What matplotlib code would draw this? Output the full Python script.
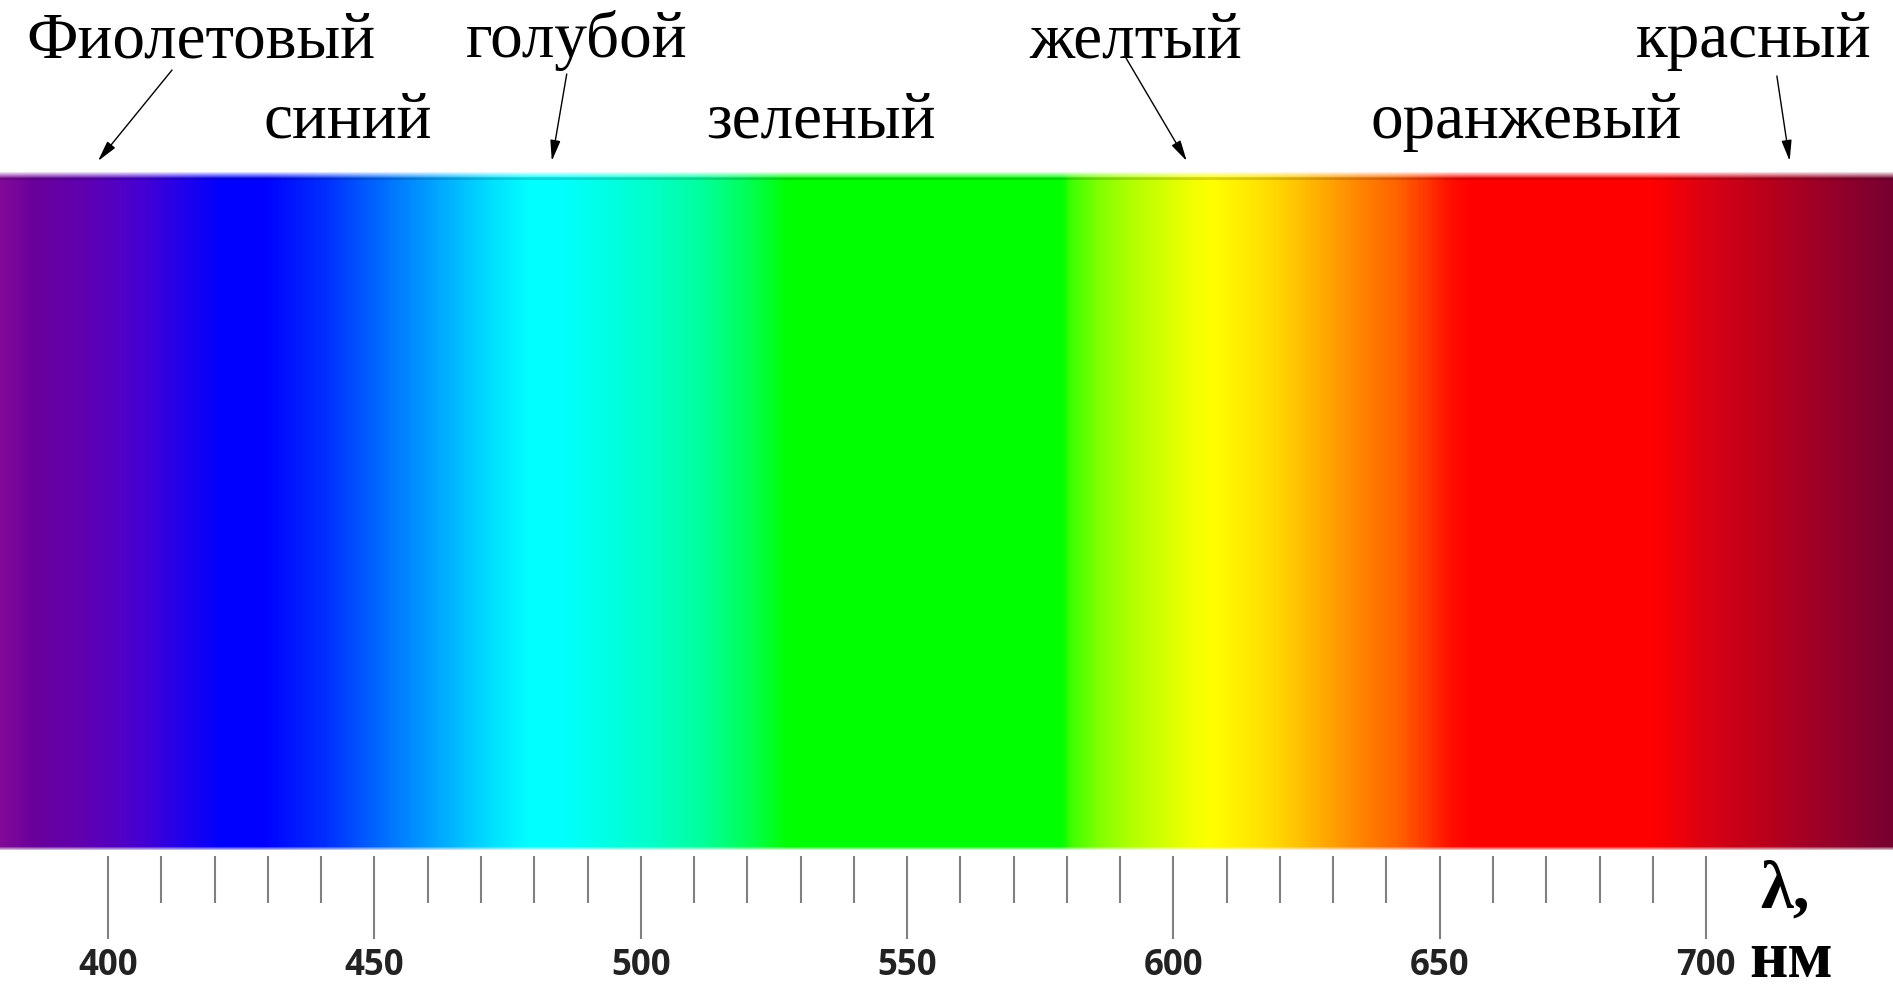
import matplotlib
matplotlib.use('Agg')
import matplotlib.pyplot as plt
import numpy as np
from matplotlib.colors import LinearSegmentedColormap

# Опорные точки спектра: длина волны (нм) и цвет полосы
stop_nm = [379.7, 386, 395, 403, 409, 414, 421, 429, 441, 452,
           462, 472, 479, 485, 492, 502, 511, 517, 522, 527,
           529, 579, 581, 586, 592, 599, 603, 607, 612, 618,
           624, 630, 636, 642, 648, 652, 656, 690, 701, 712,
           723, 735.1]
stop_colors = ['#820a98', '#6a009c', '#6000b0', '#5000c8', '#3a00dc', '#2000ec', '#0000ff', '#0000ff', '#0030ff', '#0070ff',
               '#00a8ff', '#00e0ff', '#00ffff', '#00ffff', '#00ffe8', '#00ffc8', '#00ffa0', '#00ff70', '#00ff40', '#00ff08',
               '#00ff00', '#00ff00', '#40ff00', '#80ff00', '#b0ff00', '#d8ff00', '#f0ff00', '#ffff00', '#fff000', '#ffdd00',
               '#ffc000', '#ffa000', '#ff8000', '#ff6400', '#ff3400', '#ff1000', '#ff0000', '#ff0000', '#d80014', '#b8001c',
               '#98002a', '#780030']

# Шкала длин волн
major_nm = [400, 450, 500, 550, 600, 650, 700]
major_labels = ['400', '450', '500', '550', '600', '650', '700']
minor_nm = [v for v in range(410, 700, 10) if v % 50 != 0]

# Названия цветов (верхний и нижний ряд) и длины волн, над которыми они стоят
row1_names = ['Фиолетовый', 'голубой', 'желтый', 'красный']
row1_nm = [417.5, 488.0, 593.0, 709.0]
row2_names = ['синий', 'зеленый', 'оранжевый']
row2_nm = [445.0, 533.8, 666.2]

# Стрелки от подписей верхнего ряда к полосе
arrow_from_nm = [412.0, 486.1, 591.1, 713.3]
arrow_to_nm = [398.1, 483.3, 602.5, 715.7]
arrow_from_y = [70, 74, 58, 76]

wl_min, wl_max = stop_nm[0], stop_nm[-1]

fig = plt.figure(figsize=(18.93, 9.90), dpi=100)

# ---------------------------
# Полоса спектра (y в пикселях сверху вниз)
# ---------------------------
ax = fig.add_axes([0, (990 - 856) / 990, 1, (856 - 172) / 990])
pos = [(v - wl_min) / (wl_max - wl_min) for v in stop_nm]
cmap = LinearSegmentedColormap.from_list('spectrum', list(zip(pos, stop_colors)), N=1024)

wl = np.linspace(wl_min, wl_max, 1893)
rgba = cmap((wl - wl_min) / (wl_max - wl_min))
rows = 678
img = np.tile(rgba, (rows, 1, 1))
# мягкие края сверху и снизу
fade_top = np.linspace(0.15, 1, 7)
img[:7, :, 3] = fade_top[:, None]
img[5:8, :, :3] *= 0.85
fade_bot = np.linspace(1, 0.3, 4)
img[-4:, :, 3] = fade_bot[:, None]

ax.imshow(img, extent=(wl_min, wl_max, 850, 172), aspect='auto', interpolation='bilinear')
ax.set_xlim(wl_min, wl_max)
ax.set_ylim(856, 172)
for s in ax.spines.values():
    s.set_visible(False)
ax.set_yticks([])
ax.set_xticks(major_nm)
ax.set_xticks(minor_nm, minor=True)
ax.set_xticklabels(major_labels, fontfamily='Open Sans', fontweight='bold',
                   fontsize=25, color='#222222')
ax.tick_params(axis='x', which='major', length=60, width=1.5, color='#808080', pad=6)
ax.tick_params(axis='x', which='minor', length=34, width=1.5, color='#808080')

# ---------------------------
# Подписи и стрелки
# ---------------------------
ax_t = fig.add_axes([0, 0, 1, 1], zorder=5)
ax_t.set_xlim(wl_min, wl_max)
ax_t.set_ylim(990, 0)
ax_t.axis('off')

for name, x in zip(row1_names, row1_nm):
    ax_t.text(x, 57, name, ha='center', va='baseline', fontsize=47,
              family='Liberation Serif', color='black')
for name, x in zip(row2_names, row2_nm):
    ax_t.text(x, 138, name, ha='center', va='baseline', fontsize=47,
              family='Liberation Serif', color='black')

for x0, x1, y0 in zip(arrow_from_nm, arrow_to_nm, arrow_from_y):
    ax_t.annotate('', xy=(x1, 161), xytext=(x0, y0),
                  arrowprops=dict(arrowstyle='-|>,head_length=0.9,head_width=0.22',
                                  color='black', lw=1.0, mutation_scale=14,
                                  shrinkA=0, shrinkB=0))

# Обозначение оси
ax_t.text(714.8, 908, 'λ,', ha='center', va='baseline', fontsize=48,
          family='Liberation Serif', fontweight='bold')
ax_t.text(715.9, 977, 'нм', ha='center', va='baseline', fontsize=48,
          family='Liberation Serif', fontweight='bold')

fig.savefig('out.png', dpi=100)
